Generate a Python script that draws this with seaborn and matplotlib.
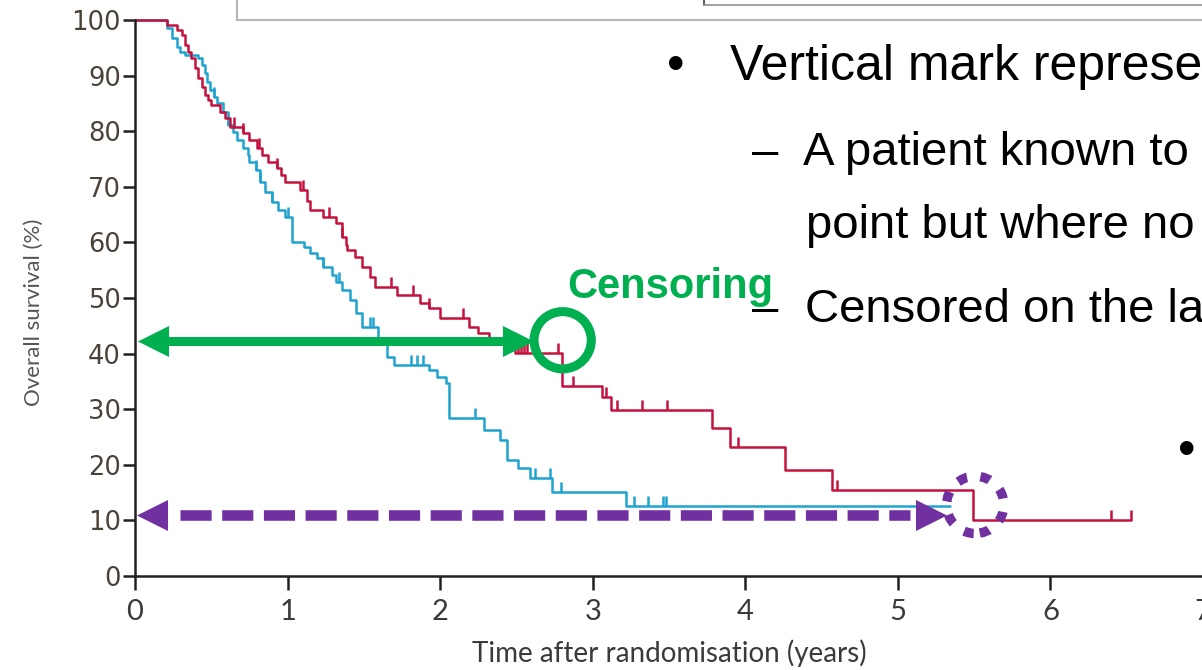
import numpy as np
import pandas as pd
import matplotlib
matplotlib.use("Agg")
import matplotlib.pyplot as plt
from matplotlib.path import Path
from matplotlib.lines import Line2D
from matplotlib.patches import Rectangle
import seaborn as sns

# ---------------- data ----------------
red_time = [0.00, 0.21, 0.275, 0.31, 0.33, 0.35, 0.37, 0.39, 0.41, 0.44, 0.46, 0.48, 0.50,
            0.56, 0.59, 0.62, 0.71, 0.75, 0.80, 0.83, 0.87, 0.93, 0.96, 0.98, 1.08, 1.13,
            1.15, 1.23, 1.32, 1.36, 1.38, 1.39, 1.44, 1.49, 1.54, 1.57, 1.72, 1.87, 1.93,
            2.00, 2.19, 2.25, 2.32, 2.49, 2.80, 3.06, 3.12, 3.78, 3.90, 4.26, 4.57, 5.49]
red_surv = [100, 99.1, 98.2, 97.3, 95.5, 94.2, 93.2, 91.4, 89.6, 88.0, 86.5, 85.6, 84.7,
            83.5, 82.4, 80.8, 79.7, 78.4, 77.0, 75.7, 74.5, 73.4, 72.1, 70.9, 69.4, 67.5,
            65.8, 64.6, 63.5, 61.0, 59.5, 58.6, 57.4, 55.6, 53.8, 52.0, 50.5, 49.1, 48.2,
            46.4, 44.8, 43.7, 42.0, 40.1, 34.2, 32.2, 29.9, 26.6, 23.2, 19.1, 15.5, 10.1]
red_end = 6.53
red_censor = [0.65, 0.71, 0.81, 0.93, 1.10, 1.27, 1.36, 1.68, 1.82, 1.93, 2.15, 2.51, 2.53,
              2.55, 2.57, 2.77, 2.87, 3.09, 3.16, 3.32, 3.49, 3.95, 4.60, 6.40, 6.53]

blue_time = [0.00, 0.21, 0.24, 0.275, 0.295, 0.33, 0.41, 0.44, 0.46, 0.47, 0.49, 0.52, 0.54,
             0.58, 0.61, 0.64, 0.67, 0.71, 0.74, 0.75, 0.79, 0.82, 0.85, 0.90, 0.94, 0.98,
             1.03, 1.11, 1.15, 1.19, 1.23, 1.29, 1.32, 1.36, 1.41, 1.45, 1.49, 1.59, 1.65,
             1.70, 1.93, 1.98, 2.04, 2.06, 2.29, 2.39, 2.44, 2.51, 2.59, 2.73, 3.22]
blue_surv = [100, 98.6, 96.8, 95.1, 94.2, 93.7, 93.2, 91.9, 90.5, 88.8, 87.4, 86.2, 85.1,
             83.5, 81.1, 79.9, 78.4, 77.0, 75.7, 74.5, 73.0, 70.9, 69.1, 67.3, 65.8, 64.6,
             60.1, 59.2, 58.1, 57.2, 55.6, 54.1, 52.9, 51.4, 49.6, 47.3, 44.8, 41.9, 39.4,
             38.0, 37.1, 35.8, 34.7, 28.4, 26.3, 24.5, 20.9, 19.4, 17.6, 15.1, 12.6]
blue_end = 5.34
blue_censor = [0.52, 0.61, 0.79, 0.82, 0.90, 1.00, 1.23, 1.34, 1.54, 1.56, 1.81, 1.85, 1.89,
               2.23, 2.62, 2.72, 2.79, 3.27, 3.36, 3.46, 3.48]

x_ticks = [0, 1, 2, 3, 4, 5, 6, 7]
y_ticks = [0, 10, 20, 30, 40, 50, 60, 70, 80, 90, 100]
x_label = "Time after randomisation (years)"
y_label = "Overall survival (%)"

# annotation geometry (data units)
green_arrow_y = 42.3
green_arrow_x = [0.118, 2.51]
green_circle = (2.803, 42.4)
purple_arrow_y = 11.0
purple_arrow_x = [0.111, 5.22]
purple_shaft_x = [0.295, 5.08]
purple_circle = (5.507, 12.8)

RED = "#c4123f"
BLUE = "#1fa3cf"
GREEN = "#00b050"
PURPLE = "#7030a0"

# ---------------- figure ----------------
sns.set_style("ticks")
W, H = 1202, 670
fig = plt.figure(figsize=(W / 100, H / 100), dpi=100)
fig.patch.set_facecolor("white")
ax = fig.add_axes([135 / W, 94 / H, 1068 / W, 556 / H])


def level_at(times, survs, t):
    idx = np.searchsorted(times, t, side="right") - 1
    return np.asarray(survs)[idx]


def curve_df(times, survs, end):
    return pd.DataFrame({"time": list(times) + [end], "surv": list(survs) + [survs[-1]]})


tick_marker = Path([(0, 0), (0, 1)])
for times, survs, end, cens, col in [
    (blue_time, blue_surv, blue_end, blue_censor, BLUE),
    (red_time, red_surv, red_end, red_censor, RED),
]:
    df = curve_df(times, survs, end)
    sns.lineplot(data=df, x="time", y="surv", drawstyle="steps-post", color=col,
                 lw=1.8, estimator=None, sort=False, ax=ax, clip_on=False, zorder=3)
    cdf = pd.DataFrame({"time": cens, "surv": level_at(times, survs, cens)})
    sns.scatterplot(data=cdf, x="time", y="surv", marker=tick_marker, s=210, color=col,
                    edgecolor=col, linewidth=1.8, ax=ax, zorder=3, clip_on=False)

# green solid double arrow
sns.lineplot(x=green_arrow_x, y=[green_arrow_y] * 2, color=GREEN, lw=6.5, ax=ax,
             zorder=5, solid_capstyle="butt")
sns.scatterplot(x=[green_arrow_x[0]], y=[green_arrow_y], marker="<", s=500, color=GREEN,
                linewidth=0, ax=ax, zorder=6, clip_on=False)
sns.scatterplot(x=[green_arrow_x[1]], y=[green_arrow_y], marker=">", s=500, color=GREEN,
                linewidth=0, ax=ax, zorder=6, clip_on=False)
sns.scatterplot(x=[green_circle[0]], y=[green_circle[1]], marker="o", s=1700,
                facecolor="none", edgecolor=GREEN, linewidth=6.5, ax=ax, zorder=6)

# purple dashed double arrow
sns.lineplot(x=purple_shaft_x, y=[purple_arrow_y] * 2, color=PURPLE, lw=7.6, ax=ax,
             zorder=5, linestyle=(0, (2.95, 1.0)), dash_capstyle="butt")
sns.scatterplot(x=[purple_arrow_x[0]], y=[purple_arrow_y], marker="<", s=500, color=PURPLE,
                linewidth=0, ax=ax, zorder=6, clip_on=False)
sns.scatterplot(x=[purple_arrow_x[1]], y=[purple_arrow_y], marker=">", s=500, color=PURPLE,
                linewidth=0, ax=ax, zorder=6, clip_on=False)
sns.scatterplot(x=[purple_circle[0]], y=[purple_circle[1]], marker="o", s=1700,
                facecolor="none", edgecolor=PURPLE, linewidth=6.8, ax=ax, zorder=6,
                linestyle=(2.0, (1.05, 1.43)))

# axes styling
ax.set_xlim(0, 7)
ax.set_ylim(0, 100)
ax.set_xticks(x_ticks)
ax.set_yticks(y_ticks)
ax.set_xticklabels([str(v) for v in x_ticks], fontfamily="Lato", fontsize=21, color="#3a3a3a")
ax.set_yticklabels([str(v) for v in y_ticks], fontfamily="DejaVu Sans", fontsize=18.5,
                   color="#4a4238")
for s in ["top", "right"]:
    ax.spines[s].set_visible(False)
for s in ["left", "bottom"]:
    ax.spines[s].set_linewidth(1.8)
    ax.spines[s].set_color("#231f20")
    ax.spines[s].set_zorder(4)
ax.tick_params(axis="y", length=8.5, width=1.8, color="#231f20", pad=1.5)
ax.tick_params(axis="x", length=10, width=1.8, color="#231f20", pad=6.5)
ax.set_xlabel(x_label, fontfamily="Lato", fontsize=20, color="#3a3a3a", labelpad=10.5)
ax.set_ylabel(y_label, fontfamily="Lato", fontsize=16, color="#555555")
ax.yaxis.set_label_coords(-0.085, 0.475)
ax.set_facecolor("none")


# ---------------- slide overlay ----------------
def fx(px):
    return px / W


def fy(py):
    return 1 - py / H


box = Rectangle((fx(237), fy(20)), 1.0, 0.05, transform=fig.transFigure, facecolor="white",
                edgecolor="#b5b5b5", lw=1.5, zorder=10)
fig.add_artist(box)
fig.add_artist(Line2D([fx(704), fx(704)], [fy(0), fy(5)], transform=fig.transFigure,
                      color="#606060", lw=1.5, zorder=11))
fig.add_artist(Line2D([fx(704), 1.0], [fy(5), fy(5)], transform=fig.transFigure,
                      color="#909090", lw=1.2, zorder=11))

TXT = dict(family="Liberation Sans", color="black", va="baseline", zorder=12)
fig.text(fx(667), fy(80), "\u2022", fontsize=36, **TXT)
fig.text(fx(730), fy(80), "Vertical mark represents", fontsize=36, **TXT)
fig.text(fx(752), fy(165), "\u2013", fontsize=34, **TXT)
fig.text(fx(803), fy(165), "A patient known to be alive", fontsize=34, **TXT)
fig.text(fx(806), fy(238), "point but where no further", fontsize=34, **TXT)
fig.text(fx(752), fy(322), "\u2013", fontsize=34, **TXT)
fig.text(fx(805), fy(322), "Censored on the last", fontsize=34, **TXT)
fig.text(fx(1178), fy(465), "\u2022", fontsize=36, **TXT)
fig.text(fx(773), fy(298), "Censoring", family="Liberation Sans", fontweight="bold",
         fontsize=30, color=GREEN, ha="right", va="baseline", zorder=12)

fig.savefig("out.png", dpi=100, facecolor="white")
